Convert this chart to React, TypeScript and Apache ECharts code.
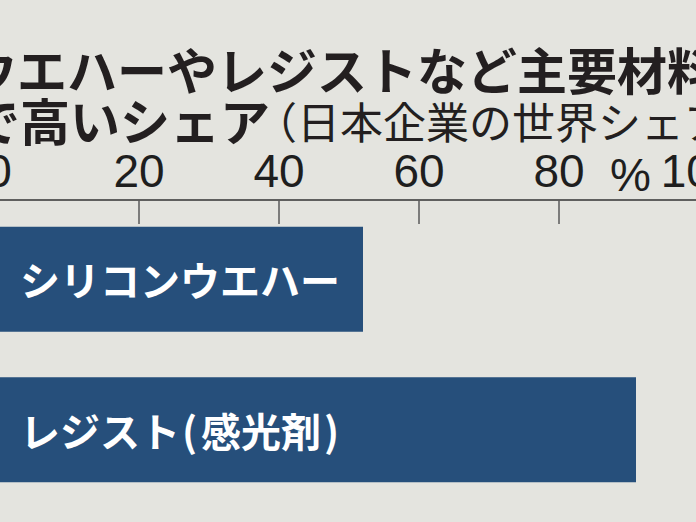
import React, { useEffect, useRef } from "react";
import * as echarts from "echarts";

const categories = ["シリコンウエハー", "レジスト（感光剤）"];
const shares = [52, 91];
const titleLine1 = "ウエハーやレジストなど主要材料";
const titleLine2Bold = "で高いシェア";
const titleLine2Note = "（日本企業の世界シェア";
const unitLabel = "%";

const CJK = '"Noto Sans CJK JP", "Noto Sans CJK SC", sans-serif';
const LATIN = '"Liberation Sans", Arial, sans-serif';
const BG = "#e4e4df";

// The bar labels use narrow (proportional) parentheses, as in the reference.
function richLabel(name: string): string {
  return name
    .split(/([（）])/)
    .filter((t) => t.length > 0)
    .map((t) => (t === "（" ? "{l|(}" : t === "）" ? "{r|)}" : "{a|" + t + "}"))
    .join("");
}

export default function App() {
  const ref = useRef<HTMLDivElement>(null);
  useEffect(() => {
    document.body.style.margin = "0";
    document.body.style.background = BG;
    const chart = echarts.init(ref.current!, null, { renderer: "svg" });
    const labelBase = { fontSize: 40, fontWeight: "bold", color: "#ffffff", fontFamily: CJK };
    chart.setOption({
      animation: false,
      backgroundColor: BG,
      grid: { left: -1, width: 700, top: 204, height: 301, outerBoundsMode: "none", containLabel: false },
      xAxis: {
        type: "value",
        position: "top",
        min: 0,
        max: 100,
        interval: 20,
        offset: 4,
        axisLine: { show: true, lineStyle: { color: "#333333", width: 1.5 } },
        axisTick: { show: true, inside: true, length: 24, lineStyle: { color: "#5a5a5a", width: 1.5 } },
        axisLabel: {
          fontSize: 46,
          color: "#1e1e1e",
          fontFamily: LATIN,
          margin: 6,
        },
        splitLine: { show: false },
      },
      yAxis: {
        type: "category",
        data: categories,
        inverse: true,
        axisLine: { show: false },
        axisTick: { show: false },
        axisLabel: { show: false },
      },
      series: [
        {
          type: "bar",
          data: shares,
          barWidth: 105,
          itemStyle: { color: "#264f7b" },
          label: {
            show: true,
            position: "insideLeft",
            distance: 21,
            formatter: (p: any) => richLabel(String(p.name)),
            rich: {
              a: { ...labelBase },
              l: { ...labelBase, padding: [0, 4, 0, 2] },
              r: { ...labelBase, padding: [0, 0, 0, 3] },
            },
          },
        },
      ],
      graphic: [
        {
          type: "text",
          left: -33,
          top: 43,
          style: { text: titleLine1, fontSize: 50, fontWeight: "bold", fill: "#231f20", fontFamily: CJK },
        },
        {
          type: "text",
          left: -30,
          top: 94,
          style: { text: titleLine2Bold, fontSize: 50, fontWeight: "bold", fill: "#231f20", fontFamily: CJK },
        },
        {
          type: "text",
          left: 254,
          top: 98,
          style: { text: titleLine2Note, fontSize: 43, fontWeight: "normal", fill: "#231f20", fontFamily: CJK },
        },
        {
          type: "text",
          left: 610,
          top: 152,
          style: { text: unitLabel, fontSize: 46, fill: "#1e1e1e", fontFamily: LATIN },
        },
      ],
    });
    return () => chart.dispose();
  }, []);
  return <div ref={ref} style={{ position: "fixed", left: 0, top: 0, width: 696, height: 522 }} />;
}
